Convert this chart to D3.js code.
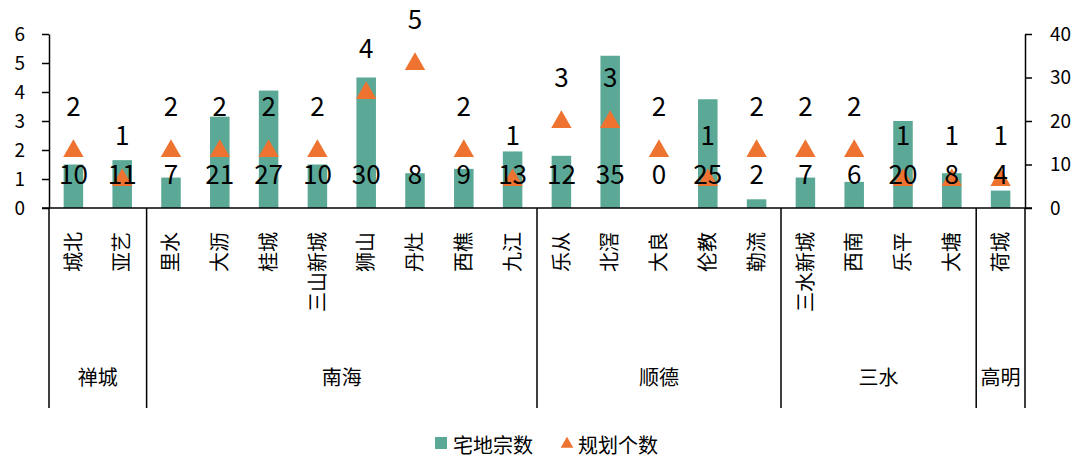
<!DOCTYPE html>
<html><head><meta charset="utf-8">
<script src="https://cdn.jsdelivr.net/npm/d3@7"></script>
<style>
body{margin:0;background:#fff;}
svg{display:block;font-family:"Noto Sans CJK SC","Noto Sans",sans-serif;}
</style></head>
<body><svg id="c" width="1073" height="459"></svg>
<script>
const categories = ["城北","亚艺","里水","大沥","桂城","三山新城","狮山","丹灶","西樵","九江","乐从","北滘","大良","伦教","勒流","三水新城","西南","乐平","大塘","荷城"];
const landCount = [10,11,7,21,27,10,30,8,9,13,12,35,0,25,2,7,6,20,8,4];
const planCount = [2,1,2,2,2,2,4,5,2,1,3,3,2,1,2,2,2,1,1,1];
const groupNames = ["禅城","南海","顺德","三水","高明"];
const groupSizes = [2,8,5,4,1];
const leftTicks = [0,1,2,3,4,5,6];
const rightTicks = [0,10,20,30,40];
const seriesNames = ["宅地宗数","规划个数"];

const barColor = "#5BA897", triColor = "#EE7330";
const svg = d3.select("#c");
const L = 49, R = 1025, Y0 = 208, YT = 34, YB = 408;

const x = d3.scaleBand().domain(categories).range([L, R]).paddingInner(0.6).paddingOuter(0.3);
const yL = d3.scaleLinear().domain([0, 6]).range([Y0, YT]);
const yR = d3.scaleLinear().domain([0, 40]).range([Y0, YT]);
const step = x.step();

// bars
svg.append("g").selectAll("rect").data(categories).join("rect")
  .attr("x", d => x(d)).attr("width", x.bandwidth())
  .attr("y", (d,i) => yR(landCount[i])).attr("height", (d,i) => yR(0) - yR(landCount[i]))
  .attr("fill", barColor);

// triangles
const tri = d3.symbol().type(d3.symbolTriangle).size(180);
svg.append("g").selectAll("path").data(categories).join("path")
  .attr("d", tri)
  .attr("transform", (d,i) => `translate(${x(d) + x.bandwidth()/2},${yL(planCount[i]) + 1})`)
  .attr("fill", triColor);

// value axes
const axL = svg.append("g").attr("transform", `translate(${L},0)`)
  .call(d3.axisLeft(yL).tickValues(leftTicks).tickFormat(d3.format("d")).tickSize(7).tickSizeOuter(0).tickPadding(17));
const axR = svg.append("g").attr("transform", `translate(${R},0)`)
  .call(d3.axisRight(yR).tickValues(rightTicks).tickFormat(d3.format("d")).tickSize(7).tickSizeOuter(0).tickPadding(18));
[axL, axR].forEach(a => {
  a.selectAll("path,line").attr("stroke", "#000").attr("stroke-width", 1.5);
  a.selectAll("text").attr("font-size", 19).attr("fill", "#000").style("font-family", "'Noto Sans CJK SC',sans-serif");
});

// category axis
const axB = svg.append("g").attr("transform", `translate(0,${Y0})`)
  .call(d3.axisBottom(x).tickSize(0).tickPadding(0));
axB.select(".domain").remove();
axB.append("line").attr("x1", L - 7).attr("x2", R + 7).attr("y1", 0).attr("y2", 0)
  .attr("stroke", "#000").attr("stroke-width", 1.5);
axB.selectAll(".tick text")
  .attr("transform", "rotate(-90)")
  .attr("x", -24).attr("y", 0).attr("dy", "0.36em")
  .attr("text-anchor", "end").attr("font-size", 20).attr("fill", "#000")
  .style("font-family", "'Noto Sans CJK SC',sans-serif");

// group separators and labels
let start = 0;
const bounds = [L];
groupSizes.forEach(n => { start += n; bounds.push(start < categories.length ? x(categories[start]) - step * x.paddingInner() / 2 : R); });
svg.append("g").selectAll("line").data(bounds).join("line")
  .attr("x1", d => d).attr("x2", d => d).attr("y1", Y0).attr("y2", YB)
  .attr("stroke", "#000").attr("stroke-width", 1.5);
svg.append("g").selectAll("text").data(groupNames).join("text")
  .attr("x", (d,i) => (bounds[i] + bounds[i+1]) / 2).attr("y", 378).attr("dy", "0.36em")
  .attr("text-anchor", "middle").attr("font-size", 20).attr("fill", "#000").text(d => d);

// data labels
svg.append("g").selectAll("text").data(categories).join("text")
  .attr("x", d => x(d) + x.bandwidth()/2).attr("y", yR(0) - 33).attr("dy", "0.36em")
  .attr("text-anchor", "middle").attr("font-size", 26).attr("fill", "#000")
  .text((d,i) => landCount[i]);
svg.append("g").selectAll("text").data(categories).join("text")
  .attr("x", d => x(d) + x.bandwidth()/2).attr("y", (d,i) => yL(planCount[i]) - 43).attr("dy", "0.36em")
  .attr("text-anchor", "middle").attr("font-size", 26).attr("fill", "#000")
  .text((d,i) => planCount[i]);

// legend
const lg = svg.append("g");
lg.append("rect").attr("x", 435).attr("y", 437).attr("width", 12).attr("height", 12).attr("fill", barColor);
lg.append("text").attr("x", 453).attr("y", 446).attr("dy", "0.36em").attr("font-size", 20).attr("fill", "#000").text(seriesNames[0]);
lg.append("path").attr("d", d3.symbol().type(d3.symbolTriangle).size(70)).attr("transform", "translate(567,444)").attr("fill", triColor);
lg.append("text").attr("x", 578).attr("y", 446).attr("dy", "0.36em").attr("font-size", 20).attr("fill", "#000").text(seriesNames[1]);
</script></body></html>
